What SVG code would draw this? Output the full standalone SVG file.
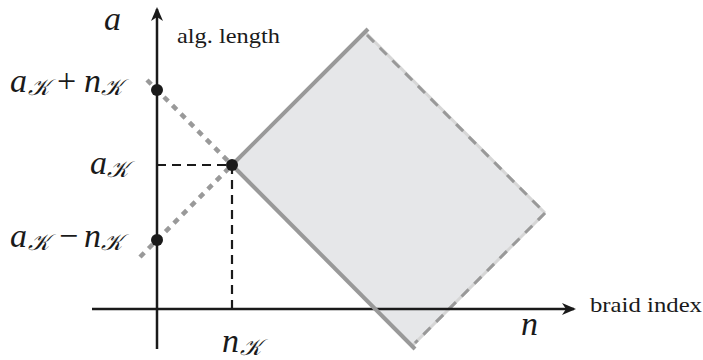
<svg xmlns="http://www.w3.org/2000/svg" width="703" height="360" viewBox="0 0 703 360">
<style>
.m{font-family:"Liberation Serif","DejaVu Serif",serif;font-style:italic;fill:#1a1a1a}
.t{font-family:"Liberation Serif","DejaVu Serif",serif;fill:#1a1a1a}
.ax{stroke:#1a1a1a;stroke-width:2.5;fill:none}
.dash{stroke:#1a1a1a;stroke-width:2.2;stroke-dasharray:9 6;fill:none}
.dot{stroke:#999;stroke-width:4.5;stroke-dasharray:6 6;fill:none}
.solid{stroke:#999;stroke-width:4;fill:none}
.lite{stroke:#d6d6d6;stroke-width:3;fill:none}
.dk{stroke:#999;stroke-width:3;stroke-dasharray:10 8;fill:none}
.s{font-size:23px}
</style>
<defs>
<marker id="arr" viewBox="0 0 14 12" refX="12" refY="6" markerWidth="14" markerHeight="12" markerUnits="userSpaceOnUse" orient="auto">
<path d="M0,0 L14,6 L0,12 L4,6 Z" fill="#1a1a1a"/>
</marker>
</defs>
<g id="region">
<polygon points="232,165 365,32 545,213 412,346" fill="#e6e7e9"/>
<line class="lite" x1="365" y1="32" x2="545" y2="213"/>
<line class="dk" x1="367" y1="35" x2="545" y2="213"/>
<line class="lite" x1="545" y1="213" x2="412" y2="346"/>
<line class="dk" x1="545" y1="213" x2="415" y2="343"/>
</g>
<g id="connectors">
<line class="dot" x1="147" y1="80" x2="232" y2="165"/>
<line class="dot" x1="140" y1="257" x2="232" y2="165"/>
<line class="dash" x1="157" y1="165" x2="232" y2="165"/>
<line class="dash" x1="232" y1="165" x2="232" y2="312"/>
<line class="ax" x1="92" y1="309" x2="574" y2="309" marker-end="url(#arr)"/>
<line class="ax" x1="157" y1="349" x2="157" y2="9" marker-end="url(#arr)"/>
<line class="solid" x1="232" y1="165" x2="368" y2="29"/>
<line class="solid" x1="232" y1="165" x2="415" y2="349"/>
</g>
<g id="points">
<circle cx="157" cy="90" r="6" fill="#1a1a1a"/>
<circle cx="232" cy="165" r="6" fill="#1a1a1a"/>
<circle cx="157" cy="240" r="6" fill="#1a1a1a"/>
</g>
<g id="labels">
<text class="m" x="104" y="30" font-size="34">a</text>
<text class="t" x="177" y="43" font-size="21" textLength="103" lengthAdjust="spacingAndGlyphs">alg. length</text>
<text class="m" font-size="34" y="92"><tspan x="10">a</tspan><tspan class="s" x="28" y="95">𝒦</tspan><tspan x="57" y="92" font-style="normal">+</tspan><tspan x="84">n</tspan><tspan class="s" x="101" y="95">𝒦</tspan></text>
<text class="m" font-size="34" y="174"><tspan x="90">a</tspan><tspan class="s" x="107" y="177">𝒦</tspan></text>
<text class="m" font-size="34" y="247"><tspan x="10">a</tspan><tspan class="s" x="28" y="250">𝒦</tspan><tspan x="59" y="247" font-style="normal">−</tspan><tspan x="84">n</tspan><tspan class="s" x="101" y="250">𝒦</tspan></text>
<text class="m" font-size="34" y="352"><tspan x="222">n</tspan><tspan class="s" x="240" y="355">𝒦</tspan></text>
<text class="m" x="521" y="335" font-size="34">n</text>
<text class="t" x="590" y="312" font-size="21" textLength="112" lengthAdjust="spacingAndGlyphs">braid index</text>
</g>
</svg>
